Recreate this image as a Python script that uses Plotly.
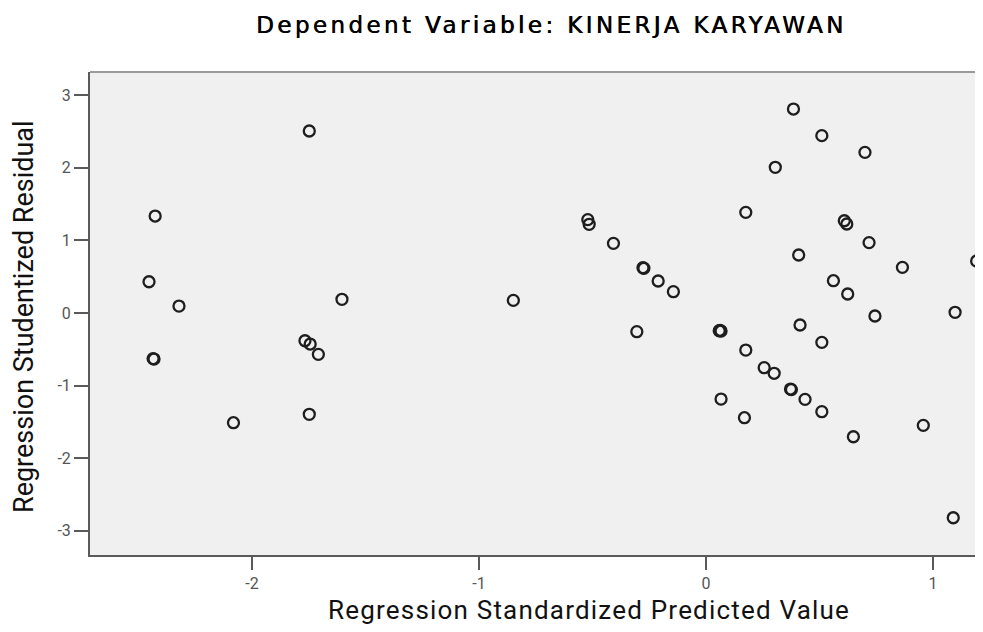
import plotly.graph_objects as go

# Regression Standardized Predicted Value (x) and Studentized Residual (y)
pred = [
    -2.427, -2.454, -2.322, -2.432, -2.436, -2.082, -1.748, -1.604,
    -1.767, -1.744, -1.708, -1.748,
    -0.849, -0.521, -0.515, -0.408, -0.278, -0.274, -0.211, -0.144, -0.305,
    0.385, 0.510, 0.700, 0.305, 0.175, 0.609, 0.620, 0.718, 0.408, 1.192,
    0.865, 0.561, 0.624, 0.058, 0.062, 0.066, 0.414, 0.744, 1.097, 0.510,
    0.175, 0.256, 0.300, 0.372, 0.376, 0.436, 0.066, 0.510, 0.169, 0.649,
    0.957, 1.089,
]
resid = [
    1.336, 0.431, 0.096, -0.634, -0.628, -1.511, 2.507, 0.189,
    -0.382, -0.427, -0.569, -1.395,
    0.174, 1.287, 1.222, 0.960, 0.624, 0.616, 0.441, 0.294, -0.257,
    2.810, 2.443, 2.213, 2.007, 1.387, 1.271, 1.226, 0.970, 0.799, 0.716,
    0.629, 0.445, 0.262, -0.244, -0.240, -0.248, -0.165, -0.041, 0.010, -0.404,
    -0.510, -0.753, -0.830, -1.047, -1.055, -1.189, -1.185, -1.359, -1.442, -1.704,
    -1.547, -2.820,
]

x_ticks = [-2, -1, 0, 1]
y_ticks = [-3, -2, -1, 0, 1, 2, 3]

title_text = "Dependent Variable: KINERJA KARYAWAN"
x_title = "Regression Standardized Predicted Value"
y_title = "Regression Studentized Residual"

fig = go.Figure(
    go.Scatter(
        x=pred, y=resid, mode="markers",
        marker=dict(symbol="circle-open", size=11, color="#1e1e1e",
                    line=dict(width=2.3, color="#1e1e1e")),
        hoverinfo="x+y",
    )
)

axis_font = dict(family="Roboto", size=16, color="#555555")

# page body has an 8px margin: figure placed at (8, 8); plot area lands at x 90..983, y 72..555
fig.update_layout(
    width=975, height=616,
    margin=dict(l=82, r=0, t=64, b=69),
    paper_bgcolor="white",
    plot_bgcolor="#f0f0f0",
    showlegend=False,
    xaxis=dict(
        range=[-2.714, 1.22], tickvals=x_ticks, ticktext=[str(v) for v in x_ticks],
        showgrid=False, zeroline=False, showline=True, linecolor="#5a5a5a", linewidth=2,
        ticks="outside", ticklen=13, tickwidth=2, tickcolor="#5a5a5a",
        tickfont=axis_font,
    ),
    yaxis=dict(
        range=[-3.333, 3.32], tickvals=y_ticks, ticktext=[str(v) for v in y_ticks],
        showgrid=False, zeroline=False, showline=True, linecolor="#5a5a5a", linewidth=2,
        ticks="outside", ticklen=14, tickwidth=2, tickcolor="#5a5a5a",
        tickfont=axis_font,
    ),
    shapes=[dict(type="line", xref="paper", yref="paper", x0=0, x1=1, y0=1, y1=1,
                 line=dict(color="#9a9a9a", width=2))],
    annotations=[
        dict(text='<span style="letter-spacing:3.4px">' + title_text + '</span>',
             xref="paper", yref="paper", x=(551 - 90) / 893, y=1 + (72 - 25) / 483,
             xanchor="center", yanchor="middle", showarrow=False,
             font=dict(family="DejaVu Sans", size=23, color="#000000",
                       shadow="0.6px 0 0 #000000")),
        dict(text='<span style="letter-spacing:1.2px">' + x_title + '</span>',
             xref="paper", yref="paper", x=(589 - 90) / 893, y=-(610 - 555) / 483,
             xanchor="center", yanchor="middle", showarrow=False,
             font=dict(family="Roboto", size=26, color="#111111")),
        dict(text=y_title, textangle=-90,
             xref="paper", yref="paper", x=-(90 - 24) / 893, y=(555 - 317) / 483,
             xanchor="center", yanchor="middle", showarrow=False,
             font=dict(family="Roboto", size=27, color="#111111")),
    ],
)

fig.write_html("out.html")
